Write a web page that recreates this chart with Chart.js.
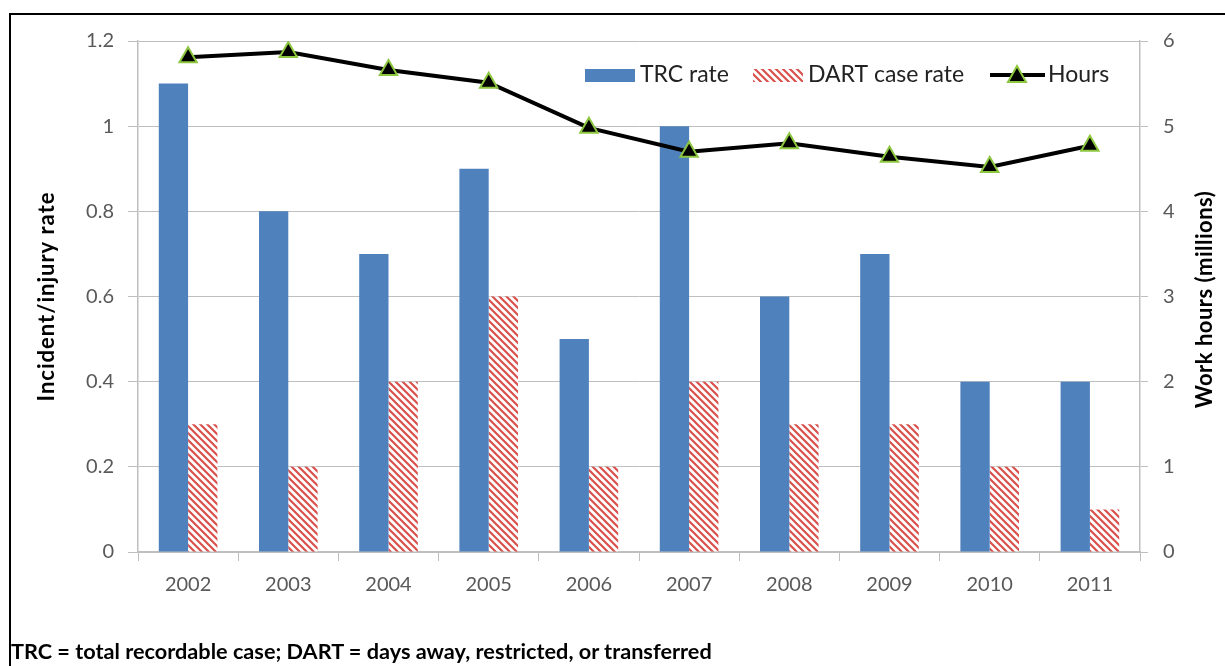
<!DOCTYPE html>
<html>
<head>
<meta charset="utf-8">
<script src="https://cdn.jsdelivr.net/npm/chart.js@4/dist/chart.umd.min.js"></script>
<style>
  html, body { margin: 0; padding: 0; background: #fff; overflow: hidden; }
  #wrap { position: relative; width: 1225px; height: 666px; }
  #frame { position: absolute; left: 9px; top: 13px; width: 1300px; height: 700px; border-top: 2px solid #000; border-left: 2px solid #000; }
  #box { position: absolute; left: 0; top: 0; width: 1225px; height: 666px; }
  #note { position: absolute; left: 11px; top: 638px; font-family: Lato, sans-serif; font-weight: bold; font-size: 21.7px; color: #000; white-space: nowrap; }
</style>
</head>
<body>
<div id="wrap">
  <div id="frame"></div>
  <div id="box"><canvas id="chart" width="1225" height="666"></canvas></div>
  <div id="note">TRC = total recordable case; DART = days away, restricted, or transferred</div>
</div>
<script>
const years = ['2002', '2003', '2004', '2005', '2006', '2007', '2008', '2009', '2010', '2011'];
const trcRate = [1.1, 0.8, 0.7, 0.9, 0.5, 1.0, 0.6, 0.7, 0.4, 0.4];
const dartRate = [0.3, 0.2, 0.4, 0.6, 0.2, 0.4, 0.3, 0.3, 0.2, 0.1];
const hours = [5.81, 5.87, 5.66, 5.51, 4.98, 4.70, 4.80, 4.64, 4.52, 4.77];

const blue = '#4f81bd';
const red = '#d9504c';
const green = '#8dc63f';
const tickColor = '#595959';
const gridColor = '#bfbfbf';
const FONT = 'Lato, sans-serif';

function hatch() {
  const c = document.createElement('canvas');
  c.width = 7; c.height = 7;
  const g = c.getContext('2d');
  g.fillStyle = '#fff';
  g.fillRect(0, 0, 7, 7);
  g.strokeStyle = red;
  g.lineWidth = 2.2;
  g.beginPath();
  g.moveTo(-1, -1); g.lineTo(8, 8);
  g.moveTo(-8, -1); g.lineTo(1, 8);
  g.moveTo(6, -1); g.lineTo(15, 8);
  g.stroke();
  return g.createPattern(c, 'repeat');
}
const dartFill = hatch();

function sideTitle(ctx, text, x, y, spacing) {
  ctx.save();
  ctx.fillStyle = '#000';
  ctx.font = 'bold 22px ' + FONT;
  ctx.letterSpacing = spacing;
  ctx.textAlign = 'center';
  ctx.textBaseline = 'middle';
  ctx.translate(x, y);
  ctx.rotate(-Math.PI / 2);
  ctx.fillText(text, 0, 0);
  ctx.restore();
}

// axis titles + legend drawn by hand (right title reads bottom to top)
const extras = {
  id: 'extras',
  afterDraw(chart) {
    const ctx = chart.ctx;
    const a = chart.chartArea;
    const midY = (a.top + a.bottom) / 2;
    sideTitle(ctx, 'Incident/injury rate', 47, midY, '1px');
    sideTitle(ctx, 'Work hours (millions)', 1205, midY + 3, '0.5px');

    // legend
    const y = 75;
    ctx.save();
    ctx.font = '23px ' + FONT;
    ctx.textBaseline = 'middle';
    ctx.textAlign = 'left';
    ctx.fillStyle = blue;
    ctx.fillRect(585, y - 6, 50, 13);
    ctx.fillStyle = '#222';
    ctx.fillText(chart.data.datasets[1].label, 640, y);
    ctx.fillStyle = dartFill;
    ctx.fillRect(753, y - 6, 50, 13);
    ctx.fillStyle = '#222';
    ctx.fillText(chart.data.datasets[2].label, 808, y);
    ctx.strokeStyle = '#000';
    ctx.lineWidth = 4;
    ctx.beginPath();
    ctx.moveTo(990, y); ctx.lineTo(1045, y);
    ctx.stroke();
    ctx.beginPath();
    ctx.moveTo(1017, y - 9); ctx.lineTo(1026, y + 7); ctx.lineTo(1008, y + 7); ctx.closePath();
    ctx.fillStyle = '#000';
    ctx.fill();
    ctx.strokeStyle = green;
    ctx.lineWidth = 2;
    ctx.stroke();
    ctx.fillStyle = '#222';
    ctx.fillText(chart.data.datasets[0].label, 1048, y);
    ctx.restore();
  }
};

new Chart(document.getElementById('chart'), {
  type: 'bar',
  data: {
    labels: years,
    datasets: [
      {
        label: 'Hours',
        type: 'line',
        data: hours,
        yAxisID: 'y1',
        borderColor: '#000',
        borderWidth: 4,
        tension: 0,
        pointStyle: 'triangle',
        pointRadius: 10,
        pointBackgroundColor: '#000',
        pointBorderColor: green,
        pointBorderWidth: 2,
        order: 0
      },
      {
        label: 'TRC rate',
        data: trcRate,
        backgroundColor: blue,
        yAxisID: 'y',
        order: 1
      },
      {
        label: 'DART case rate',
        data: dartRate,
        backgroundColor: dartFill,
        yAxisID: 'y',
        order: 1
      }
    ]
  },
  options: {
    responsive: false,
    animation: false,
    devicePixelRatio: 1,
    datasets: { bar: { categoryPercentage: 0.585, barPercentage: 1 } },
    layout: { padding: { top: 41, left: 0, right: 0, bottom: 0 } },
    plugins: { legend: { display: false }, tooltip: { enabled: false } },
    scales: {
      x: {
        grid: { drawOnChartArea: false, color: gridColor, tickLength: 9, offset: true },
        border: { color: gridColor, width: 1.5 },
        ticks: { color: tickColor, font: { family: FONT, size: 20 }, padding: 12, maxRotation: 0 },
        afterFit(s) { s.height = 114; }
      },
      y: {
        position: 'left',
        min: 0, max: 1.2,
        grid: { color: gridColor, tickLength: 10 },
        border: { color: gridColor, width: 1.5 },
        ticks: { stepSize: 0.2, color: tickColor, font: { family: FONT, size: 20 }, padding: 14,
          callback: v => Math.round(v * 10) / 10 },
        afterFit(s) { s.width = 138; }
      },
      y1: {
        position: 'right',
        min: 0, max: 6,
        grid: { drawOnChartArea: false, color: gridColor, tickLength: 8 },
        border: { color: gridColor, width: 1.5 },
        ticks: { stepSize: 1, color: tickColor, font: { family: FONT, size: 20 }, padding: 15 },
        afterFit(s) { s.width = 85; }
      }
    }
  },
  plugins: [extras]
});
</script>
</body>
</html>
